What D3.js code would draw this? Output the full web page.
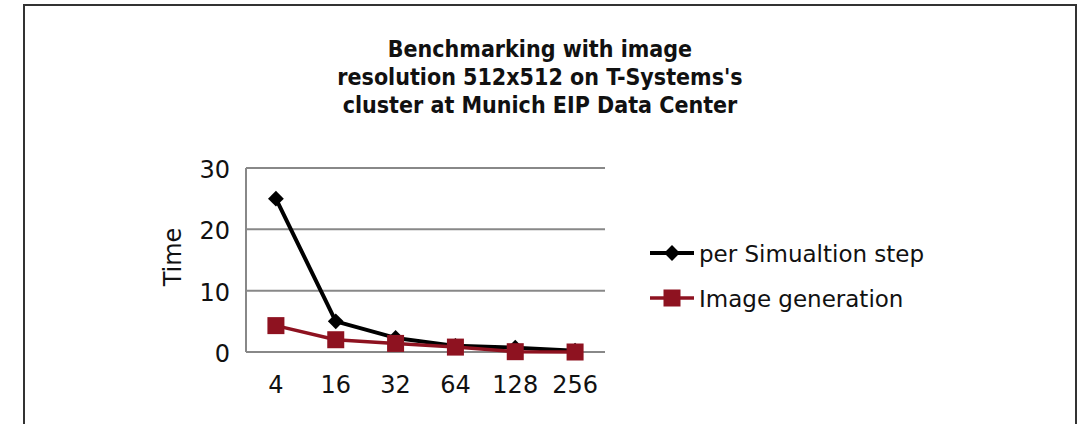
<!DOCTYPE html>
<html><head><meta charset="utf-8">
<script src="https://cdn.jsdelivr.net/npm/d3@7"></script>
<style>body{margin:0;background:#fff}svg{display:block}</style>
</head><body>
<script>
const categories = ["4","16","32","64","128","256"];
const simSteps = [25, 5, 2.3, 1, 0.7, 0.2];
const imageGen = [4.3, 2, 1.4, 0.8, 0.05, 0];
const yTicks = [0, 10, 20, 30];
const seriesNames = ["per Simualtion step", "Image generation"];
const titleLines = ["Benchmarking with image", "resolution 512x512 on T-Systems's", "cluster at Munich EIP Data Center"];

const W = 1084, H = 424;
const svg = d3.select("body").append("svg").attr("width", W).attr("height", H);
svg.append("rect").attr("x", 24).attr("y", 5).attr("width", 1052).attr("height", 440)
  .attr("fill", "#fff").attr("stroke", "#333").attr("stroke-width", 2);

const font = "'DejaVu Sans', sans-serif";
svg.append("g").selectAll("text").data(titleLines).join("text")
  .attr("x", 540).attr("y", (d, i) => 57 + i * 28).attr("text-anchor", "middle")
  .attr("font-family", "'DejaVu Sans Condensed', 'DejaVu Sans', sans-serif").attr("font-weight", "bold").attr("font-size", 23)
  .attr("fill", "#111").text(d => d);

const x = d3.scaleBand().domain(categories).range([246, 605]);
const y = d3.scaleLinear().domain([0, 30]).range([352, 168]);

const grid = svg.append("g");
grid.selectAll("line").data(yTicks).join("line")
  .attr("x1", 246).attr("x2", 605).attr("y1", d => y(d)).attr("y2", d => y(d))
  .attr("stroke", "#888").attr("stroke-width", 2);
grid.append("line").attr("x1", 246).attr("x2", 246).attr("y1", y(30)).attr("y2", y(0))
  .attr("stroke", "#888").attr("stroke-width", 2);

const yAxis = svg.append("g").attr("transform", "translate(246,0)")
  .call(d3.axisLeft(y).tickValues(yTicks).tickSize(0).tickPadding(16));
yAxis.select(".domain").remove();
yAxis.selectAll("text").attr("font-family", font).attr("font-size", 24).attr("fill", "#111").attr("dy", "0.4em");

const xAxis = svg.append("g").attr("transform", "translate(0,352)")
  .call(d3.axisBottom(x).tickSize(0).tickPadding(24));
xAxis.select(".domain").remove();
xAxis.selectAll("text").attr("font-family", font).attr("font-size", 24).attr("fill", "#111");

svg.append("text").attr("transform", "translate(181,257) rotate(-90)").attr("text-anchor", "middle")
  .attr("font-family", font).attr("font-size", 24).attr("fill", "#111").text("Time");

const cx = d => x(d) + x.bandwidth() / 2;
const line = d3.line().x((d, i) => cx(categories[i])).y(d => y(d));
const black = "#000", red = "#8e1220";
const diamond = d3.symbol(d3.symbolSquare, 125)();

svg.append("path").datum(simSteps).attr("d", line).attr("fill", "none")
  .attr("stroke", black).attr("stroke-width", 4).attr("stroke-linejoin", "round");
svg.append("g").selectAll("path").data(simSteps).join("path")
  .attr("d", diamond)
  .attr("transform", (d, i) => `translate(${cx(categories[i])},${y(d)}) rotate(45)`).attr("fill", black);

svg.append("path").datum(imageGen).attr("d", line).attr("fill", "none")
  .attr("stroke", red).attr("stroke-width", 3.5).attr("stroke-linejoin", "round");
svg.append("g").selectAll("rect").data(imageGen).join("rect")
  .attr("x", (d, i) => cx(categories[i]) - 8.5).attr("y", d => y(d) - 8.5)
  .attr("width", 17).attr("height", 17).attr("fill", red);

const leg = svg.append("g");
[[black, 253], [red, 298]].forEach(([c, ly], i) => {
  leg.append("line").attr("x1", 650).attr("x2", 694).attr("y1", ly).attr("y2", ly)
    .attr("stroke", c).attr("stroke-width", i ? 3.5 : 4);
  if (i === 0) leg.append("path").attr("d", diamond)
    .attr("transform", `translate(672,${ly}) rotate(45)`).attr("fill", c);
  else leg.append("rect").attr("x", 663.5).attr("y", ly - 8.5).attr("width", 17).attr("height", 17).attr("fill", c);
  leg.append("text").attr("x", 699).attr("y", ly + 9).attr("font-family", font).attr("font-size", 23)
    .attr("fill", "#111").text(seriesNames[i]);
});
</script>
</body></html>
